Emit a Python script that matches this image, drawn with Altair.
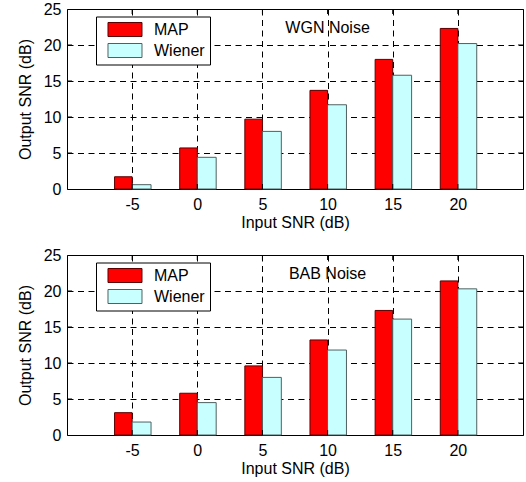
import altair as alt
import pandas as pd

# Input SNR levels (dB) and the two enhancement methods
snr_in = [-5, 0, 5, 10, 15, 20]
methods = ["MAP", "Wiener"]

# Output SNR (dB), white Gaussian noise
wgn_map = [1.7, 5.7, 9.7, 13.7, 18.0, 22.3]
wgn_wiener = [0.6, 4.4, 8.0, 11.7, 15.8, 20.2]

# Output SNR (dB), babble noise
bab_map = [3.1, 5.8, 9.6, 13.2, 17.3, 21.4]
bab_wiener = [1.8, 4.5, 8.0, 11.8, 16.1, 20.3]

x_ticks = snr_in
y_ticks = [0, 5, 10, 15, 20, 25]
y_inner_ticks = [5, 10, 15, 20]

FONT = "Liberation Sans"
FILLS = ["#ff0000", "#c8ffff"]
EDGES = ["#5a0000", "#506060"]

x_scale = alt.Scale(domain=[-10, 25], nice=False, zero=False)
y_scale = alt.Scale(domain=[0, 25], nice=False)

grid_style = dict(grid=True, gridDash=[6, 4.5], gridColor="black", gridOpacity=1,
                  gridWidth=1, tickSize=0, domain=False, labelFontSize=16,
                  titleFontSize=16, labelFont=FONT, titleFont=FONT,
                  titleFontWeight="normal", labelColor="black", titleColor="black",
                  labelOverlap=False, labelFlush=False,
                  labelExpr="'' + datum.value")

x_axis = alt.Axis(values=x_ticks, title="Input SNR (dB)", labelPadding=7,
                  titlePadding=2, **grid_style)
y_axis = alt.Axis(values=y_ticks, title="Output SNR (dB)", labelPadding=6,
                  titlePadding=10, **grid_style)

# rectangular legend swatch, offset so the label sits to its right;
# non-breaking spaces widen the legend box on the right
swatch = "M-0.143,-1H4.714V1H-0.143Z"
legend = alt.Legend(orient="none", legendX=29, legendY=7.5, title=None,
                    symbolType=swatch, symbolSize=196, symbolStrokeWidth=1,
                    labelOffset=37, padding=5, rowPadding=3,
                    strokeColor="black", fillColor="white",
                    labelFont=FONT, labelFontSize=16, labelColor="black",
                    labelExpr="datum.label + '\u00a0\u00a0'")


def panel(map_vals, wiener_vals, name):
    rows = []
    for s, m, w in zip(snr_in, map_vals, wiener_vals):
        rows.append({"snr": s, "method": "MAP", "value": m})
        rows.append({"snr": s, "method": "Wiener", "value": w})
    df = pd.DataFrame(rows)

    bars = alt.Chart(df).transform_calculate(
        x0="datum.method == 'MAP' ? datum.snr - 1.35 : datum.snr",
        x1="datum.method == 'MAP' ? datum.snr : datum.snr + 1.45",
    ).mark_rect(strokeWidth=1).encode(
        x=alt.X("x0:Q", scale=x_scale, axis=x_axis),
        x2="x1:Q",
        y=alt.Y("value:Q", scale=y_scale, axis=y_axis),
        y2=alt.datum(0),
        fill=alt.Fill("method:N", scale=alt.Scale(domain=methods, range=FILLS), legend=legend),
        stroke=alt.Stroke("method:N", scale=alt.Scale(domain=methods, range=EDGES), legend=legend),
    )

    xt = pd.DataFrame({"t": x_ticks})
    yt = pd.DataFrame({"t": y_inner_ticks})

    # short inward tick marks on all four sides of the frame
    def tick_x(y0):
        return alt.Chart(xt).mark_tick(
            orient="vertical", size=10, thickness=1, color="black", clip=True, opacity=1
        ).encode(x=alt.X("t:Q", scale=x_scale, axis=x_axis),
                 y=alt.YDatum(y0, scale=y_scale, axis=y_axis))

    def tick_y(x0):
        return alt.Chart(yt).mark_tick(
            orient="horizontal", size=10, thickness=1, color="black", clip=True, opacity=1
        ).encode(y=alt.Y("t:Q", scale=y_scale, axis=y_axis),
                 x=alt.XDatum(x0, scale=x_scale, axis=x_axis))

    note = alt.Chart(pd.DataFrame({"label": [name]})).mark_text(
        font=FONT, fontSize=16, color="black", align="center", baseline="middle"
    ).encode(x=alt.XDatum(10, scale=x_scale, axis=x_axis),
             y=alt.YDatum(22.4, scale=y_scale, axis=y_axis), text="label:N")

    return alt.layer(bars, tick_x(0), tick_x(25), tick_y(-10), tick_y(25), note).properties(
        width=456, height=180
    )


chart = alt.vconcat(
    panel(wgn_map, wgn_wiener, "WGN Noise"),
    panel(bab_map, bab_wiener, "BAB Noise"),
    spacing=66,
    bounds="flush",
).resolve_legend(fill="independent", stroke="independent").properties(
    padding={"left": 16, "top": 0, "right": 2, "bottom": 3},
    background="white",
).configure_view(stroke="black", strokeWidth=1)

chart.save("out.html", embed_options={"renderer": "svg", "actions": False})
